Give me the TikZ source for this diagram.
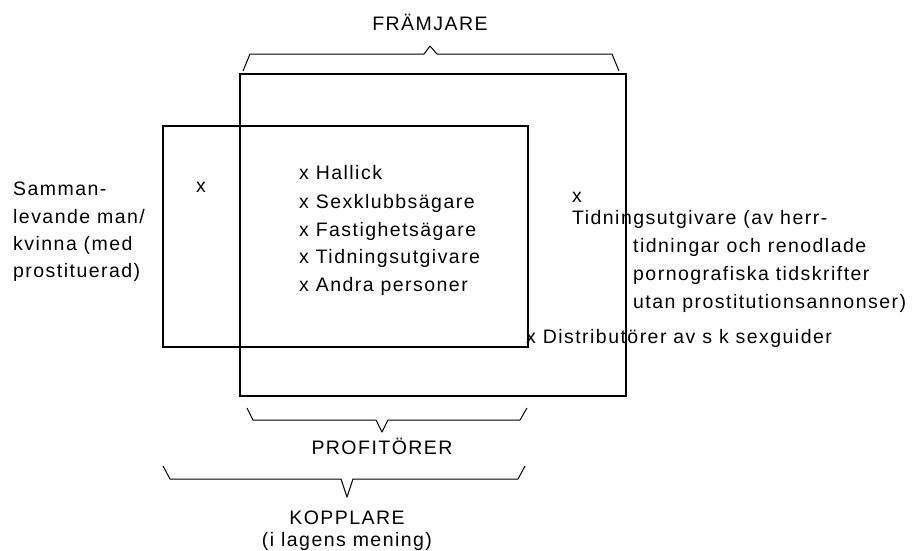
\documentclass[tikz,border=0pt]{standalone}
\usepackage{fontspec}
\setmainfont{Liberation Sans}[LetterSpace=7.5]
\begin{document}
\begin{tikzpicture}[x=1pt,y=-1pt,
  lbl/.style={anchor=base west,inner sep=0pt,font=\fontsize{19.5}{22}\selectfont},
  ctr/.style={anchor=base,inner sep=0pt,font=\fontsize{19.5}{22}\selectfont},
  frame/.style={line width=1.1pt,line join=miter},
  brace/.style={line width=1pt,line join=round}]
\useasboundingbox (0,0) rectangle (913,550);
% boxes
\draw[frame] (240,74) rectangle (626,396);
\draw[frame] (163,126) rectangle (528,347);
% top brace
\draw[brace] (243,71) -- (250,54) -- (424,54) -- (430,46) -- (437,54) -- (612,54) -- (619,71);
\node[ctr] (fram) at (430,30) {FRÄMJARE};
% profitorer brace
\draw[brace] (247,408) -- (253,420) -- (376,420) -- (382,432) -- (388,420) -- (520,420) -- (527,408);
\node[ctr] (prof) at (382,454) {PROFITÖRER};
% kopplare brace
\draw[brace] (163,466) -- (170,479) -- (341,479) -- (347,497) -- (353,479) -- (518,479) -- (525,466);
\node[ctr] (kopp) at (347,524) {KOPPLARE};
\node[ctr] (kopp2) at (347,546) {(i lagens mening)};
% left text
\node[lbl] (s1) at (13,195) {Samman-};
\node[lbl] (s2) at (13,223) {levande man/};
\node[lbl] (s3) at (13,250) {kvinna (med};
\node[lbl] (s4) at (13,277) {prostituerad)};
\node[lbl] (lx) at (196,192) {x};
% central list
\node[lbl] (c1) at (299,179) {x Hallick};
\node[lbl] (c2) at (299,208) {x Sexklubbsägare};
\node[lbl] (c3) at (299,236) {x Fastighetsägare};
\node[lbl] (c4) at (299,263) {x Tidningsutgivare};
\node[lbl] (c5) at (299,291) {x Andra personer};
% right
\node[lbl] (rx) at (572,202) {x};
\node[lbl] (r1) at (572,224) {Tidningsutgivare (av herr-};
\node[lbl] (r2) at (633,252) {tidningar och renodlade};
\node[lbl] (r3) at (633,280) {pornografiska tidskrifter};
\node[lbl] (r4) at (633,308) {utan prostitutionsannonser)};
\node[lbl] (d1) at (526,343) {x Distributörer av s k sexguider};
\end{tikzpicture}
\end{document}
